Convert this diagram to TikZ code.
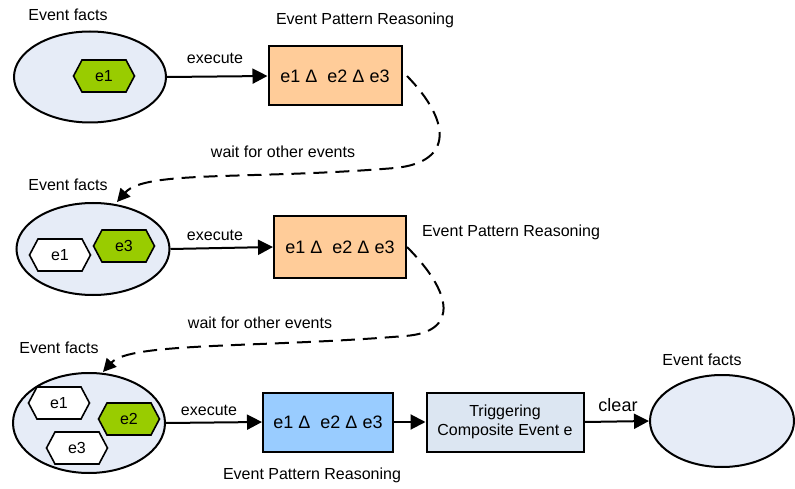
\documentclass[tikz,border=0pt]{standalone}
\usepackage{fontspec}
\setmainfont{Liberation Sans}
\usetikzlibrary{arrows.meta,shapes.geometric,shapes.symbols}
\definecolor{factfill}{RGB}{230,236,247}
\definecolor{trigfill}{RGB}{220,230,242}
\definecolor{patorange}{RGB}{255,204,153}
\definecolor{patblue}{RGB}{153,204,255}
\definecolor{evgreen}{RGB}{153,204,0}
\tikzset{
  facts/.style={ellipse,draw,line width=2pt,fill=factfill,inner sep=0pt},
  pattern box/.style={rectangle,draw,line width=2pt,inner sep=0pt,font=\fontsize{18}{20}\selectfont},
  evhex/.style={signal,signal to=east and west,signal pointer angle=124,draw,line width=1.6pt,
    minimum width=61pt,minimum height=32pt,inner sep=0pt,font=\fontsize{16}{18}\selectfont},
  label text/.style={font=\fontsize{16}{18}\selectfont,inner sep=0pt},
  flow/.style={line width=2pt,-{Triangle[length=15pt,width=15pt]}},
  waitflow/.style={line width=2pt,dash pattern=on 14pt off 8pt,-{Triangle[length=13pt,width=13pt]}}
}
\begin{document}
\begin{tikzpicture}[x=1pt,y=-1pt]
\useasboundingbox (0,0) rectangle (795,489);

% ---- first stage ----
\node[facts,minimum width=152pt,minimum height=91pt] (ef1) at (90,77) {};
\node[evhex,fill=evgreen] (h1a) at (104,76) {e1};
\node[label text] (lf1) at (68,15) {Event facts};
\node[pattern box,fill=patorange,minimum width=133pt,minimum height=59pt] (epr1) at (335,76) {e1 Δ~ e2 Δ e3};
\node[label text] (lp1) at (365,20) {Event Pattern Reasoning};
\draw[flow] (ef1.east) -- (epr1.west);
\node[label text] (ex1) at (215,58) {execute};

% ---- second stage ----
\node[facts,minimum width=153pt,minimum height=92pt] (ef2) at (93,249) {};
\node[evhex,fill=white] (h2a) at (60,255) {e1};
\node[evhex,fill=evgreen] (h2c) at (124,246) {e3};
\node[label text] (lf2) at (68,185) {Event facts};
\node[pattern box,fill=patorange,minimum width=132pt,minimum height=61pt] (epr2) at (340,247) {e1 Δ~ e2 Δ e3};
\node[label text] (lp2) at (511,232) {Event Pattern Reasoning};
\draw[flow] (ef2.east) -- (epr2.west);
\node[label text] (ex2) at (215,235) {execute};

\coordinate (in2) at (117,202);
\draw[waitflow] (epr2.east |- epr1.east) .. controls (450,120) and (455,162) .. (395,168)
   .. controls (250,180) and (145,170) .. (in2);
\node[label text] (w1) at (283,152) {wait for other events};

% ---- third stage ----
\node[facts,minimum width=152pt,minimum height=100pt] (ef3) at (89,423) {};
\node[evhex,fill=white] (h3a) at (59,403) {e1};
\node[evhex,fill=evgreen] (h3b) at (129,419) {e2};
\node[evhex,fill=white] (h3c) at (77,448) {e3};
\node[label text] (lf3) at (59,348) {Event facts};
\node[pattern box,fill=patblue,minimum width=130pt,minimum height=59pt] (epr3) at (328,422) {e1 Δ~ e2 Δ e3};
\node[label text] (lp3) at (312,475) {Event Pattern Reasoning};
\draw[flow] (ef3.east) -- (epr3.west);
\node[label text] (ex3) at (209,410) {execute};

\coordinate (in3) at (103,372);
\draw[waitflow] (epr2.east) .. controls (452,292) and (460,332) .. (405,336)
   .. controls (260,348) and (130,342) .. (in3);
\node[label text] (w2) at (260,323) {wait for other events};

% ---- triggering and clearing ----
\node[rectangle,draw,line width=2pt,fill=trigfill,minimum width=157pt,minimum height=59pt,
  inner sep=0pt,align=center,font=\fontsize{16}{19}\selectfont] (trig) at (505,422)
  {Triggering\\Composite Event e};
\draw[flow] (epr3.east) -- (trig.west);
\node[facts,minimum width=144pt,minimum height=92pt] (ef4) at (722,421) {};
\node[label text] (lf4) at (702,360) {Event facts};
\draw[flow] (trig.east) -- (ef4.west);
\node[label text,font=\fontsize{18}{20}\selectfont] (cl) at (618,405) {clear};
\end{tikzpicture}
\end{document}
